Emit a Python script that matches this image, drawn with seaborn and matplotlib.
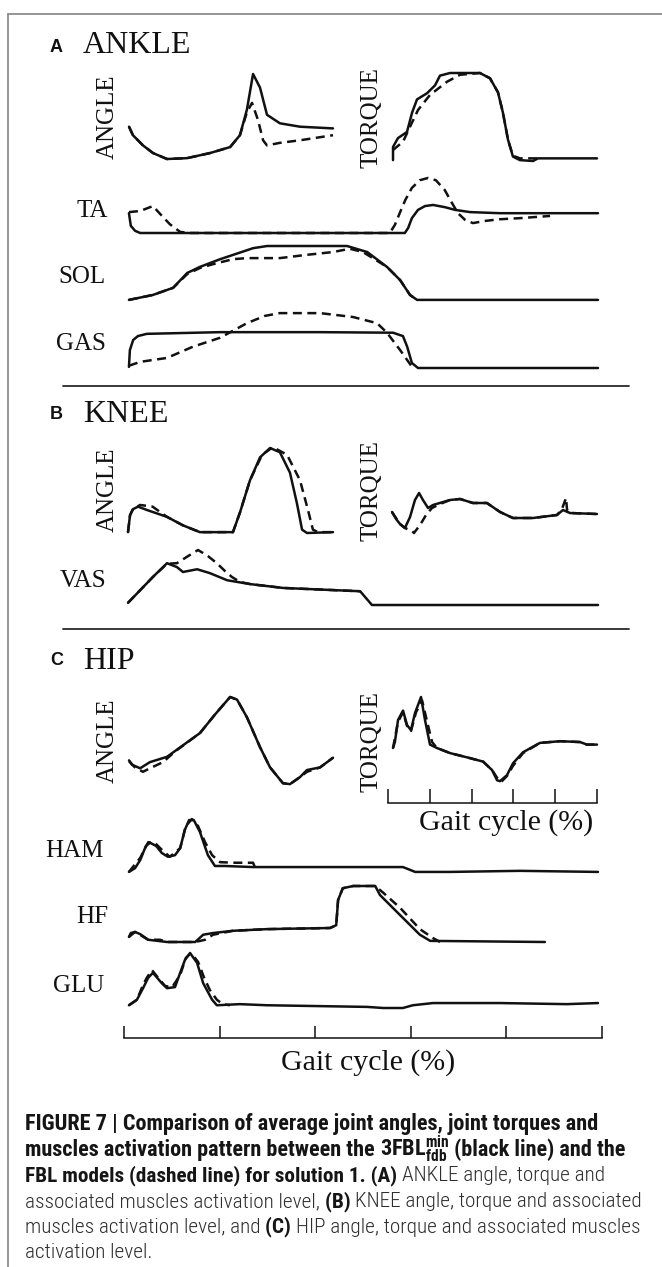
import numpy as np
import seaborn as sns
import matplotlib.pyplot as plt
from matplotlib.lines import Line2D
from matplotlib import font_manager

sns.set_theme(style="white")
plt.rcParams["font.family"] = ["Liberation Serif", "DejaVu Serif"]

# ---- data: gait cycle (%) vs normalised level ----
# solid = 3FBL model, dashed = FBL model
ankle_angle_x = [0.5, 2.4, 7.3, 12.2, 19.0, 28.8, 40.0, 49.8, 54.6, 58.0, 61.0, 64.4, 67.8, 74.1, 83.9, 100]
ankle_angle_y = [0.38, 0.28, 0.16, 0.07, 0.0, 0.01, 0.07, 0.14, 0.28, 0.58, 1.0, 0.84, 0.52, 0.42, 0.38, 0.36]
ankle_angle_fbl_x = [0.5, 2.4, 7.3, 12.2, 19.0, 28.8, 40.0, 49.8, 54.6, 58.0, 60.5, 63.4, 65.9, 67.8, 74.1, 83.9, 100]
ankle_angle_fbl_y = [0.38, 0.28, 0.16, 0.07, 0.0, 0.01, 0.07, 0.14, 0.28, 0.55, 0.66, 0.46, 0.22, 0.16, 0.19, 0.22, 0.28]

ankle_torque_x = [0.5, 0.5, 2.9, 7.3, 9.8, 12.2, 17.1, 21.0, 23.4, 28.3, 42.9, 47.8, 51.7, 54.1, 56.6, 59.0, 62.4, 68.8, 71.2, 100]
ankle_torque_y = [0.01, 0.16, 0.26, 0.33, 0.55, 0.70, 0.77, 0.86, 0.97, 1.0, 1.0, 0.94, 0.78, 0.55, 0.24, 0.05, 0.01, 0.0, 0.03, 0.03]
ankle_torque_fbl_x = [0.5, 5.4, 8.8, 12.7, 18.5, 26.8, 33.2, 42.9, 47.8, 51.7, 54.1, 56.6, 59.0, 62.4, 72.0]
ankle_torque_fbl_y = [0.125, 0.22, 0.39, 0.58, 0.75, 0.90, 0.98, 1.0, 0.94, 0.78, 0.55, 0.24, 0.06, 0.03, 0.03]

ta_x = [0.2, 0.6, 1.5, 2.6, 58.9, 59.6, 60.4, 61.7, 63.2, 64.9, 67.4, 69.6, 72.8, 79.1, 100]
ta_y = [0.36, 0.13, 0.04, 0.0, 0.0, 0.09, 0.27, 0.42, 0.49, 0.51, 0.47, 0.42, 0.38, 0.36, 0.36]
ta_fbl_x = [0.2, 2.6, 4.7, 5.3, 6.8, 8.9, 11.1, 13.2, 55.7, 56.8, 57.9, 59.0, 60.4, 62.1, 63.8, 65.5, 67.4,
            68.9, 70.2, 71.7, 73.4, 76.0, 79.1, 83.4, 89.8]
ta_fbl_y = [0.38, 0.40, 0.47, 0.49, 0.35, 0.16, 0.02, 0.0, 0.0, 0.15, 0.38, 0.60, 0.82, 0.96, 1.0, 0.96, 0.78,
            0.55, 0.36, 0.24, 0.18, 0.22, 0.25, 0.27, 0.31]

sol_x = [0.2, 5.3, 9.6, 12.6, 15.3, 19.6, 26.6, 29.6, 46.6, 50.9, 55.1, 57.9, 60.0, 61.5, 100]
sol_y = [0.02, 0.11, 0.24, 0.51, 0.62, 0.76, 0.96, 1.0, 1.0, 0.89, 0.62, 0.38, 0.11, 0.02, 0.02]
sol_fbl_x = [0.2, 5.3, 9.6, 12.6, 15.3, 18.1, 22.3, 25.3, 32.3, 38.1, 43.6, 47.2, 50.0, 55.1, 57.9, 60.0, 61.5]
sol_fbl_y = [0.02, 0.11, 0.24, 0.49, 0.60, 0.67, 0.76, 0.78, 0.78, 0.84, 0.89, 0.95, 0.89, 0.62, 0.38, 0.11, 0.02]

gas_x = [0.2, 0.4, 1.1, 2.1, 4.0, 19.6, 40.9, 56.4, 58.5, 59.4, 60.4, 61.7, 100]
gas_y = [0.02, 0.32, 0.50, 0.57, 0.61, 0.64, 0.64, 0.63, 0.57, 0.38, 0.09, 0.0, 0.0]
gas_fbl_x = [0.2, 2.6, 8.3, 13.8, 19.6, 25.3, 29.1, 32.3, 40.9, 47.9, 53.0, 55.1, 57.9, 60.6]
gas_fbl_y = [0.04, 0.11, 0.18, 0.38, 0.54, 0.80, 0.93, 0.98, 0.98, 0.91, 0.80, 0.63, 0.32, 0.0]

knee_angle_x = [0, 1.0, 2.4, 4.9, 9.3, 19.0, 26.8, 35.1, 51.2, 54.6, 59.5, 64.4, 69.3, 74.1, 79.0, 82.4, 84.9, 87.3, 100]
knee_angle_y = [0.01, 0.21, 0.28, 0.31, 0.27, 0.19, 0.09, 0.01, 0.01, 0.24, 0.62, 0.89, 1.0, 0.95, 0.71, 0.35, 0.04, 0.0, 0.01]
knee_angle_fbl_x = [0, 1.0, 2.4, 5.9, 12.0, 19.0, 26.8, 35.1, 51.2, 54.6, 59.5, 65.4, 70.7, 77.6, 83.9, 87.8, 90.2, 92.7, 100]
knee_angle_fbl_y = [0.01, 0.21, 0.28, 0.33, 0.31, 0.19, 0.09, 0.01, 0.01, 0.24, 0.62, 0.92, 1.01, 0.92, 0.62, 0.27, 0.04, 0.01, 0.01]

knee_torque_x = [0, 2.0, 3.9, 6.3, 8.8, 11.2, 13.2, 15.1, 17.6, 20.0, 28.3, 33.2, 39.5, 46.3, 52.7, 59.0, 68.8, 80.5, 83.4, 86.8, 100]
knee_torque_y = [0.56, 0.42, 0.32, 0.24, 0.46, 0.80, 0.94, 0.80, 0.64, 0.70, 0.80, 0.82, 0.74, 0.74, 0.56, 0.44, 0.44, 0.50, 0.60, 0.54, 0.52]
knee_torque_fbl_x = [0, 3.9, 6.3, 9.8, 10.7, 13.7, 16.6, 19.5, 23.4, 28.3, 33.2, 39.5, 46.3, 52.7, 59.0, 68.8, 80.5,
                     82.9, 84.9, 85.4, 86.8, 100]
knee_torque_fbl_y = [0.56, 0.32, 0.24, 0.18, 0.14, 0.30, 0.50, 0.64, 0.72, 0.80, 0.82, 0.74, 0.74, 0.56, 0.44, 0.44, 0.50,
                     0.62, 0.84, 0.60, 0.54, 0.52]

vas_x = [0, 2.6, 5.3, 8.3, 10.4, 11.7, 14.7, 17.4, 21.1, 26.0, 33.0, 49.4, 50.4, 51.9, 100]
vas_y = [0.04, 0.27, 0.51, 0.76, 0.69, 0.60, 0.65, 0.58, 0.45, 0.38, 0.31, 0.25, 0.15, 0.0, 0.0]
vas_fbl_x = [0, 2.6, 5.3, 8.3, 10.4, 12.8, 14.9, 17.0, 18.9, 20.6, 22.1, 23.8, 26.0, 33.0, 49.4]
vas_fbl_y = [0.04, 0.27, 0.51, 0.75, 0.76, 0.89, 1.0, 0.89, 0.76, 0.62, 0.51, 0.42, 0.38, 0.31, 0.25]

hip_angle_x = [0.5, 2.0, 5.9, 10.7, 19.0, 35.1, 42.4, 49.8, 53.2, 58.0, 64.4, 69.3, 75.6, 79.0, 83.9, 87.3, 93.7, 100]
hip_angle_y = [0.28, 0.23, 0.19, 0.26, 0.32, 0.59, 0.80, 1.0, 0.97, 0.77, 0.43, 0.20, 0.02, 0.01, 0.09, 0.17, 0.20, 0.31]
hip_angle_fbl_x = [0.5, 3.4, 7.3, 10.7, 17.1, 22.9, 35.1, 42.4, 49.8, 53.2, 58.0, 64.4, 69.3, 75.6, 79.0, 83.9, 87.3, 93.7, 100]
hip_angle_fbl_y = [0.27, 0.20, 0.15, 0.19, 0.26, 0.38, 0.59, 0.80, 1.0, 0.97, 0.77, 0.43, 0.20, 0.02, 0.01, 0.09, 0.15, 0.20, 0.31]

hip_torque_x = [2.4, 3.3, 4.8, 7.2, 9.1, 11.0, 12.9, 15.8, 17.7, 20.1, 23.4, 29.7, 37.8, 45.5, 49.8, 52.2, 53.6,
                56.9, 59.8, 64.6, 72.7, 82.3, 91.9, 95.2, 100]
hip_torque_y = [0.40, 0.47, 0.73, 0.84, 0.67, 0.61, 0.81, 1.0, 0.73, 0.44, 0.40, 0.34, 0.29, 0.24, 0.14, 0.02, 0.01,
                0.08, 0.22, 0.35, 0.46, 0.48, 0.47, 0.44, 0.44]
hip_torque_fbl_x = [2.4, 4.8, 7.2, 9.1, 11.0, 13.4, 16.3, 18.7, 21.1, 23.4, 29.7, 37.8, 45.5, 49.8, 52.2, 54.1,
                    56.9, 59.8, 64.6, 72.7, 82.3, 91.9, 95.2, 100]
hip_torque_fbl_y = [0.40, 0.71, 0.82, 0.66, 0.60, 0.82, 0.96, 0.71, 0.47, 0.40, 0.34, 0.29, 0.24, 0.14, 0.05, 0.0,
                    0.07, 0.19, 0.34, 0.46, 0.48, 0.47, 0.44, 0.44]

ham_x = [0.2, 1.5, 2.6, 3.8, 4.7, 6.0, 7.2, 8.5, 10.0, 11.1, 12.1, 13.0, 14.0, 15.3, 17.0, 18.5, 20.6, 26.6,
         58.5, 61.1, 68.5, 83.4, 100]
ham_y = [0.02, 0.09, 0.24, 0.50, 0.56, 0.50, 0.37, 0.30, 0.33, 0.46, 0.80, 0.98, 0.98, 0.76, 0.33, 0.13, 0.13,
         0.11, 0.11, 0.02, 0.02, 0.04, 0.02]
ham_fbl_x = [0.2, 2.6, 4.3, 5.7, 7.2, 8.9, 11.1, 12.3, 13.6, 14.9, 16.4, 17.9, 19.6, 22.8, 26.6, 27.0]
ham_fbl_y = [0.02, 0.28, 0.57, 0.56, 0.43, 0.30, 0.46, 0.87, 1.0, 0.87, 0.57, 0.33, 0.20, 0.19, 0.19, 0.11]

hf_x = [0.2, 0.6, 1.5, 2.6, 4.3, 8.3, 14.3, 16.0, 18.1, 22.3, 29.6, 43.0, 44.3, 44.7, 45.7, 47.9, 52.6,
        53.6, 57.9, 62.1, 64.3, 88.7]
hf_y = [0.09, 0.16, 0.18, 0.14, 0.04, 0.0, 0.0, 0.13, 0.16, 0.20, 0.23, 0.25, 0.30, 0.75, 0.96, 1.0, 1.0,
        0.84, 0.48, 0.13, 0.02, 0.0]
hf_fbl_x = [0.2, 1.5, 4.3, 6.8, 8.3, 14.3, 16.4, 18.1, 22.3, 29.6, 43.0, 44.3, 44.7, 45.7, 47.9, 52.6, 54.3,
            57.9, 62.1, 64.9, 66.4]
hf_fbl_y = [0.09, 0.18, 0.04, 0.04, 0.0, 0.0, 0.04, 0.13, 0.20, 0.23, 0.25, 0.30, 0.75, 0.96, 1.0, 1.0, 0.88,
            0.61, 0.23, 0.07, 0.0]

glu_x = [0.2, 1.9, 3.2, 4.3, 5.3, 6.4, 7.2, 8.3, 10.0, 11.1, 12.1, 13.2, 14.7, 16.0, 17.9, 18.9, 23.8, 29.6,
         50.9, 54.3, 58.5, 60.6, 64.9, 79.1, 93.4, 100]
glu_y = [0.05, 0.15, 0.36, 0.55, 0.64, 0.53, 0.45, 0.36, 0.38, 0.64, 0.87, 1.0, 0.82, 0.45, 0.15, 0.05, 0.07,
         0.05, 0.02, 0.0, 0.0, 0.05, 0.09, 0.09, 0.07, 0.09]
glu_fbl_x = [0.2, 1.9, 3.2, 4.0, 5.1, 6.4, 7.9, 9.4, 11.1, 12.3, 13.4, 14.9, 16.2, 17.4, 18.9, 20.2, 21.7]
glu_fbl_y = [0.05, 0.15, 0.42, 0.55, 0.69, 0.55, 0.40, 0.38, 0.60, 0.91, 1.0, 0.84, 0.55, 0.33, 0.15, 0.07, 0.05]

gait_ticks = [0, 20, 40, 60, 80, 100]
muscle_labels = ["TA", "SOL", "GAS", "VAS", "HAM", "HF", "GLU"]

# caption: each line is a list of (text, bold?) pieces
caption_lines = [
    [("FIGURE 7 | Comparison of average joint angles, joint torques and", True)],
    [("muscles activation pattern between the ", True),
     (r"$\mathbf{3FBL}_{\mathbf{fdb}}^{\mathbf{min}}$ ", True),
     ("(black line) and the", True)],
    [("FBL models (dashed line) for solution 1. (A) ", True), ("ANKLE angle, torque and", False)],
    [("associated muscles activation level, ", False), ("(B) ", True),
     ("KNEE angle, torque and associated", False)],
    [("muscles activation level, and ", False), ("(C) ", True),
     ("HIP angle, torque and associated muscles", False)],
    [("activation level.", False)],
]
caption_widths = [574, 600, 595, 620, 618, None]

# ---- layout (pixels) ----
W, H = 662, 1267
INK = "#111111"
LW = 1.8
DASH = (0, (3.6, 2.2))

fig = plt.figure(figsize=(W / 100, H / 100), dpi=100, facecolor="white")


def fx(x):
    return x / W


def fy(y):
    return 1 - y / H


def panel(x0, x1, ytop, ybot, sx, sy, dx, dy):
    ax = fig.add_axes([fx(x0), fy(ybot), (x1 - x0) / W, (ybot - ytop) / H])
    sns.lineplot(x=dx, y=dy, ax=ax, color=INK, lw=LW, sort=False, estimator=None,
                 clip_on=False, linestyle=DASH)
    sns.lineplot(x=sx, y=sy, ax=ax, color=INK, lw=LW, sort=False, estimator=None,
                 clip_on=False, solid_capstyle="round")
    ax.set_xlim(0, 100)
    ax.set_ylim(0, 1)
    ax.axis("off")
    return ax


def gait_axis(x0, x1, y, tick_len):
    ax = fig.add_axes([fx(x0), fy(y), (x1 - x0) / W, 20 / H])
    ax.patch.set_alpha(0)
    ax.set_xlim(0, 100)
    ax.set_xticks(gait_ticks)
    ax.set_yticks([])
    sns.despine(ax=ax, left=True)
    ax.spines["bottom"].set_color(INK)
    ax.spines["bottom"].set_linewidth(1.1)
    ax.tick_params(axis="x", bottom=True, direction="in", length=tick_len * 0.72,
                   width=1.1, color=INK, labelbottom=False)
    return ax


def label(x, y, s, size, **kw):
    kw.setdefault("va", "baseline")
    fig.text(fx(x), fy(y), s, fontsize=size, color=INK, **kw)


# border and dividers
fig.add_artist(Line2D([fx(8), fx(8)], [0, fy(14)], transform=fig.transFigure, color="#8c8c8c", lw=1.3))
fig.add_artist(Line2D([fx(8), 1], [fy(14), fy(14)], transform=fig.transFigure, color="#8c8c8c", lw=1.3))
for yd in (386, 629):
    fig.add_artist(Line2D([fx(63), fx(629)], [fy(yd), fy(yd)], transform=fig.transFigure, color="#2a2a2a", lw=1.3))

# section headings
for letter, name, yb, ybl in (("A", "ANKLE", 53, 52), ("B", "KNEE", 422, 419), ("C", "HIP", 669, 665)):
    label(50, ybl, letter, 13, family=["Liberation Sans", "DejaVu Sans"], fontweight="bold")
    label(83, yb, name, 23)

# joint panels
panel(128, 333, 74, 159, ankle_angle_x, ankle_angle_y, ankle_angle_fbl_x, ankle_angle_fbl_y)
panel(392, 597, 73, 161, ankle_torque_x, ankle_torque_y, ankle_torque_fbl_x, ankle_torque_fbl_y)
panel(128, 333, 448, 533, knee_angle_x, knee_angle_y, knee_angle_fbl_x, knee_angle_fbl_y)
panel(392, 597, 490, 540, knee_torque_x, knee_torque_y, knee_torque_fbl_x, knee_torque_fbl_y)
panel(128, 333, 697, 785, hip_angle_x, hip_angle_y, hip_angle_fbl_x, hip_angle_fbl_y)
panel(388, 597, 697, 782, hip_torque_x, hip_torque_y, hip_torque_fbl_x, hip_torque_fbl_y)

for yc in (117, 490, 741):
    label(108, yc, "ANGLE", 18, rotation=90, ha="center", va="center")
    label(372, yc + 1, "TORQUE", 18, rotation=90, ha="center", va="center")

# muscle panels
muscle_boxes = [(178, 233), (246, 301), (312, 368), (550, 605), (819, 873), (886, 942), (953, 1008)]
muscle_data = [(ta_x, ta_y, ta_fbl_x, ta_fbl_y), (sol_x, sol_y, sol_fbl_x, sol_fbl_y),
               (gas_x, gas_y, gas_fbl_x, gas_fbl_y), (vas_x, vas_y, vas_fbl_x, vas_fbl_y),
               (ham_x, ham_y, ham_fbl_x, ham_fbl_y), (hf_x, hf_y, hf_fbl_x, hf_fbl_y),
               (glu_x, glu_y, glu_fbl_x, glu_fbl_y)]
label_pos = [(108, 217), (106, 283), (106, 350), (106, 587), (104, 857), (108, 923), (104, 992)]
for (yt, yb), d, name, (lx, ly) in zip(muscle_boxes, muscle_data, muscle_labels, label_pos):
    panel(128, 598, yt, yb, *d)
    label(lx, ly, name, 18, ha="right")

# gait cycle axes
gait_axis(388, 597, 803, 14)
label(506, 830, "Gait cycle (%)", 21.5, ha="center")
gait_axis(124, 602, 1038, 12)
label(368, 1070, "Gait cycle (%)", 21.5, ha="center")

# ---- caption ----
fonts = font_manager.fontManager.ttflist
names = {f.name for f in fonts}
cap_font = next((f for f in ["Roboto Condensed", "Liberation Sans Narrow", "Roboto", "Liberation Sans"] if f in names),
                "DejaVu Sans")
has_light = any(f.name == cap_font and f.weight in (300, "light") for f in fonts)
REG_W = "light" if has_light else "normal"
plt.rcParams["mathtext.fontset"] = "custom"
plt.rcParams["mathtext.rm"] = cap_font
plt.rcParams["mathtext.bf"] = cap_font + ":bold"
plt.rcParams["mathtext.it"] = cap_font + ":italic"

renderer = fig.canvas.get_renderer()


def text_w(s, size, bold):
    t = fig.text(0, 0, s, fontsize=size, family=cap_font, fontweight="bold" if bold else REG_W)
    w = t.get_window_extent(renderer=renderer).width
    t.remove()
    return w


def piece_w(s, size, bold):
    return text_w(s + "|", size, bold) - text_w("|", size, bold)


def line_w(pieces, size):
    return sum(piece_w(s, size, b) for s, b in pieces)


base = 10.0
cap_size = base * caption_widths[0] / line_w(caption_lines[0], base)
fits = [cap_size] + [base * tw / line_w(p, base) for p, tw in zip(caption_lines[1:], caption_widths[1:]) if tw]
reg_size = min(cap_size, min(fits[2:]))

for i, pieces in enumerate(caption_lines):
    size = cap_size if i < 2 else reg_size
    x = 25.0
    yb = 1130 + i * 25.7
    for s, bold in pieces:
        fig.text(fx(x), fy(yb), s, fontsize=size, family=cap_font,
                 fontweight="bold" if bold else REG_W, color="#151515" if bold else "#2e2e2e",
                 va="baseline", ha="left")
        x += piece_w(s, size, bold)

fig.savefig("out.png", dpi=100, facecolor="white")
